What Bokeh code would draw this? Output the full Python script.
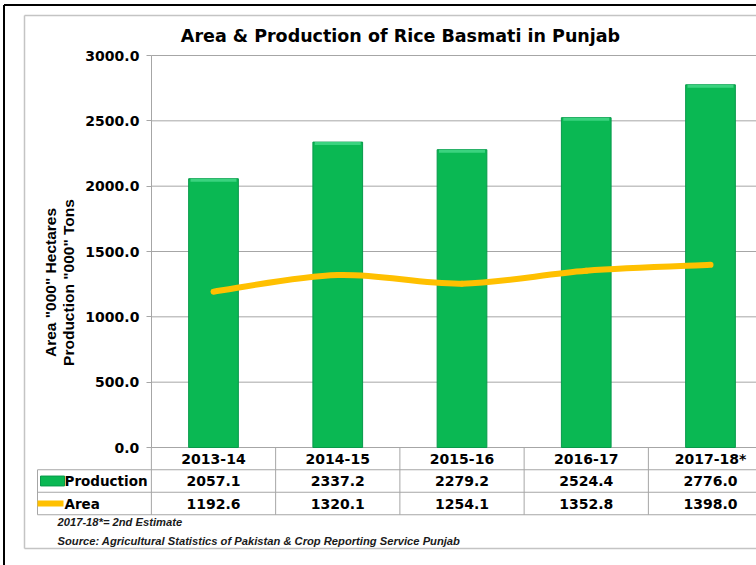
import math
from bokeh.plotting import figure
from bokeh.models import Range1d, LinearAxis, FixedTicker, NumeralTickFormatter
from bokeh.core.properties import value
from bokeh.embed import file_html
from bokeh.resources import INLINE

# ---------------- data ----------------
categories = ["2013-14", "2014-15", "2015-16", "2016-17", "2017-18*"]
production = [2057.1, 2337.2, 2279.2, 2524.4, 2776.0]
area = [1192.6, 1320.1, 1254.1, 1352.8, 1398.0]
y_ticks = [0, 500, 1000, 1500, 2000, 2500, 3000]
series_names = ["Production", "Area"]
title_text = "Area & Production of Rice Basmati in Punjab"
y_label_lines = ['Area "000" Hectares', 'Production "000" Tons']
notes = ["2017-18*= 2nd Estimate",
         "Source: Agricultural Statistics of Pakistan & Crop Reporting Service Punjab"]

# ---------------- layout ----------------
W, H = 756, 565
X0, Y0 = 0, 0                 # picture offset of the figure
cat0_px, cat_step = 213.0, 124.25
base_px, px_per_unit = 447.0, 392.0 / 3000.0
row0_px, row_step = 458.0, 22.5

x_start = (X0 - cat0_px) / cat_step
x_end = (X0 + W - cat0_px) / cat_step
y_end = (base_px - Y0) / px_per_unit
y_start = (base_px - (Y0 + H)) / px_per_unit

GREEN = "#0ab853"
GREEN_TOP = "#3bd37f"
GREEN_EDGE = "#07994a"
GOLD = "#FFC000"
GRID = "#a6a6a6"
FONT = value("DejaVu Sans")
FONT2 = value("Liberation Sans")

p = figure(width=W, height=H, x_range=Range1d(x_start, x_end),
           y_range=Range1d(y_start, y_end), output_backend="svg",
           toolbar_location=None, x_axis_location=None, y_axis_location=None,
           min_border=0, outline_line_color=None,
           background_fill_color="white", border_fill_color="white")
p.extra_x_ranges = {"px": Range1d(X0, X0 + W)}
p.extra_y_ranges = {"px": Range1d(Y0 + H, Y0),
                    "tbl": Range1d((Y0 + H - row0_px) / row_step, (Y0 - row0_px) / row_step)}
p.xgrid.visible = False
p.ygrid.visible = False

n = len(categories)
idx = list(range(n))

# borders
p.segment(x0=[3.5], y0=[4.5], x1=[3.5], y1=[Y0 + H], x_range_name="px", y_range_name="px",
          line_color="black", line_width=2)
p.segment(x0=[3.5], y0=[4.5], x1=[X0 + W], y1=[4.5], x_range_name="px", y_range_name="px",
          line_color="black", line_width=2)
p.segment(x0=[24, 24, 24], y0=[15, 15, 548], x1=[24, X0 + W, X0 + W], y1=[548, 15, 548],
          x_range_name="px", y_range_name="px", line_color="#c4c4c4", line_width=1.5)

# gridlines
p.segment(x0=[-0.5] * len(y_ticks), y0=y_ticks, x1=[x_end] * len(y_ticks), y1=y_ticks,
          line_color=GRID, line_width=1)

# y axis
yax = LinearAxis(fixed_location=-0.5, bounds=(0, 3000), ticker=FixedTicker(ticks=y_ticks),
                 formatter=NumeralTickFormatter(format="0.0"))
yax.axis_line_color = GRID
yax.major_tick_line_color = GRID
yax.major_tick_out = 5
yax.major_tick_in = 0
yax.minor_tick_line_color = None
yax.major_label_text_font = "DejaVu Sans"
yax.major_label_text_font_style = "bold"
yax.major_label_text_font_size = "14px"
yax.major_label_text_color = "black"
yax.major_label_standoff = 7
p.add_layout(yax, "left")

# bars
p.vbar(x=idx, top=production, bottom=0, width=0.4, fill_color=GREEN,
       line_color=GREEN_EDGE, line_width=1)
bevel = 3.0 / px_per_unit
p.vbar(x=idx, top=production, bottom=[v - bevel for v in production], width=0.37,
       fill_color=GREEN_TOP, line_color=None)

# smoothed area line (Catmull-Rom as cubic beziers through the data points)
bx0, by0, bx1, by1, c0x, c0y, c1x, c1y = [], [], [], [], [], [], [], []
for i in range(n - 1):
    a = max(i - 1, 0)
    d = min(i + 2, n - 1)
    bx0.append(idx[i]); by0.append(area[i])
    bx1.append(idx[i + 1]); by1.append(area[i + 1])
    c0x.append(idx[i] + (idx[i + 1] - idx[a]) / 6.0)
    c0y.append(area[i] + (area[i + 1] - area[a]) / 6.0)
    c1x.append(idx[i + 1] - (idx[d] - idx[i]) / 6.0)
    c1y.append(area[i + 1] - (area[d] - area[i]) / 6.0)
p.bezier(x0=bx0, y0=by0, x1=bx1, y1=by1, cx0=c0x, cy0=c0y, cx1=c1x, cy1=c1y,
         line_color=GOLD, line_width=6, line_cap="round")

# ---------------- data table ----------------
p.segment(x0=[37, 37, 37], y0=[0.5, 1.5, 2.5], x1=[X0 + W] * 3, y1=[0.5, 1.5, 2.5],
          x_range_name="px", y_range_name="tbl", line_color=GRID, line_width=1)
p.segment(x0=[37], y0=[0.5], x1=[37], y1=[2.5], x_range_name="px", y_range_name="tbl",
          line_color=GRID, line_width=1)
bounds_x = [i - 0.5 for i in range(n + 1)]
p.segment(x0=bounds_x, y0=[-0.5] * (n + 1), x1=bounds_x, y1=[2.5] * (n + 1),
          y_range_name="tbl", line_color=GRID, line_width=1)

p.text(x=idx, y=[0] * n, text=categories, y_range_name="tbl", text_font=FONT,
       text_font_style="bold", text_font_size="14px", text_align="center",
       text_baseline="middle", text_color="black")
p.text(x=idx, y=[1] * n, text=["%.1f" % v for v in production], y_range_name="tbl",
       text_font=FONT, text_font_style="bold", text_font_size="14px",
       text_align="center", text_baseline="middle", text_color="black")
p.text(x=idx, y=[2] * n, text=["%.1f" % v for v in area], y_range_name="tbl",
       text_font=FONT, text_font_style="bold", text_font_size="14px",
       text_align="center", text_baseline="middle", text_color="black")
p.text(x=[64, 64], y=[1, 2], text=series_names, x_range_name="px", y_range_name="tbl",
       text_font=FONT, text_font_style="bold", text_font_size="13.5px",
       text_align="left", text_baseline="middle", text_color="black")
# legend keys
p.quad(left=[40], right=[64], top=[0.78], bottom=[1.22], x_range_name="px",
       y_range_name="tbl", fill_color=GREEN, line_color=GREEN_EDGE)
p.segment(x0=[37], y0=[2], x1=[63], y1=[2], x_range_name="px", y_range_name="tbl",
          line_color=GOLD, line_width=6)

# ---------------- texts ----------------
p.text(x=[400], y=[35], text=[title_text], x_range_name="px", y_range_name="px",
       text_font=FONT, text_font_style="bold", text_font_size="17.5px",
       text_align="center", text_baseline="middle", text_color="black")
p.text(x=[50, 68], y=[282, 282], text=y_label_lines, x_range_name="px", y_range_name="px",
       angle=math.pi / 2, text_font=FONT2, text_font_style="bold",
       text_font_size="15.5px", text_align="center", text_baseline="middle",
       text_color="black")
p.text(x=[57, 57], y=[521, 540], text=notes, x_range_name="px", y_range_name="px",
       text_font=FONT2, text_font_style="bold italic", text_font_size="11.2px",
       text_align="left", text_baseline="middle", text_color="#1a1a1a")

open("out.html", "w").write(file_html(p, INLINE))
